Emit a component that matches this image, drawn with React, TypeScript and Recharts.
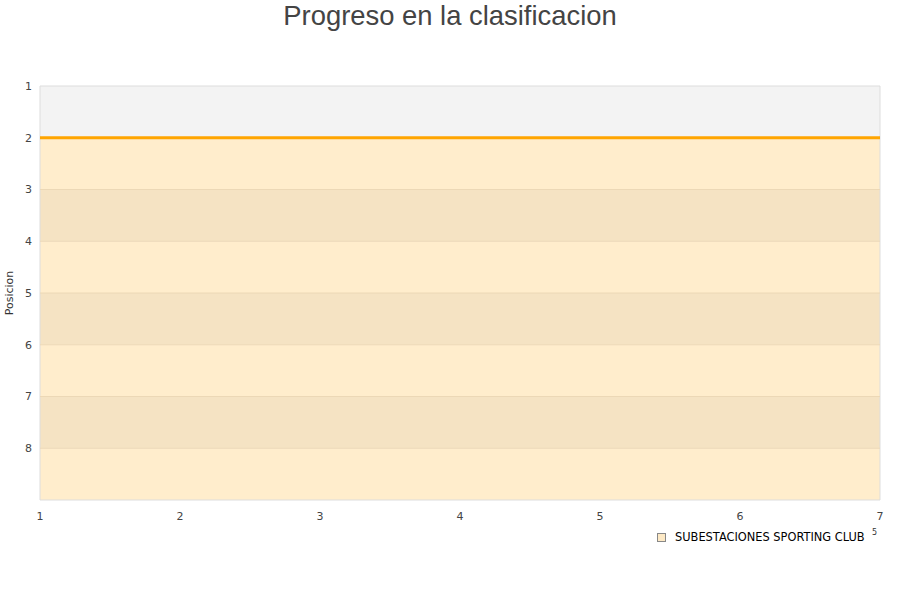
import { ComposedChart, Line, XAxis, YAxis, ReferenceArea, ReferenceLine } from 'recharts';

const ROUNDS = [1, 2, 3, 4, 5, 6, 7];
const POSITIONS = [2, 2, 2, 2, 2, 2, 2];
const X_TICKS = [1, 2, 3, 4, 5, 6, 7];
const Y_TICKS = [1, 2, 3, 4, 5, 6, 7, 8];
const TEAM = 'SUBESTACIONES SPORTING CLUB';

const data = ROUNDS.map((r, i) => ({ round: r, pos: POSITIONS[i] }));

const LIGHT = '#ffedcc';
const DARK = '#f5e3c3';

export default function App() {
  return (
    <div style={{ position: 'absolute', left: 0, top: 0, width: 900, height: 600, background: '#fff', fontFamily: '"DejaVu Sans", sans-serif' }}>
      <div
        style={{
          position: 'absolute',
          top: 0,
          width: 900,
          textAlign: 'center',
          fontFamily: '"Liberation Sans", Arial, sans-serif',
          fontSize: 27.4,
          color: '#444',
          lineHeight: '32px',
        }}
      >
        Progreso en la clasificacion
      </div>
      <ComposedChart width={900} height={600} data={data} margin={{ top: 86, right: 20, bottom: 70, left: 10 }}>
        {/* fondo del area de trazado */}
        <ReferenceArea x1={1} x2={7} y1={1} y2={2} fill="#f3f3f3" fillOpacity={1} stroke="none" />
        {[2, 3, 4, 5, 6, 7, 8].map((p) => (
          <ReferenceArea
            key={p}
            x1={1}
            x2={7}
            y1={p}
            y2={p + 1}
            fill={p % 2 === 0 ? LIGHT : DARK}
            fillOpacity={1}
            stroke="none"
          />
        ))}
        {[3, 4, 5, 6, 7, 8].map((p) => (
          <ReferenceLine key={p} y={p} stroke="#ecd8b6" strokeWidth={1} />
        ))}
        <XAxis
          dataKey="round"
          type="number"
          domain={[1, 7]}
          ticks={X_TICKS}
          axisLine={false}
          tickLine={false}
          tickMargin={6}
          tick={{ fontSize: 11, fill: '#444' }}
          height={30}
        />
        <YAxis
          type="number"
          reversed
          domain={[1, 9]}
          ticks={Y_TICKS}
          interval={0}
          axisLine={false}
          tickLine={false}
          tick={{ fontSize: 11, fill: '#444' }}
          width={30}
          label={{ value: 'Posicion', angle: -90, position: 'insideLeft', offset: -1, style: { fontSize: 11, fill: '#333', textAnchor: 'middle' } }}
        />
        <ReferenceArea x1={1} x2={7} y1={1} y2={9} fill="none" stroke="#dddddd" strokeWidth={1} />
        <Line
          type="linear"
          dataKey="pos"
          stroke="#ffa500"
          strokeWidth={3}
          dot={false}
          isAnimationActive={false}
        />
      </ComposedChart>
      <div style={{ position: 'absolute', left: 657, top: 530, display: 'flex', alignItems: 'center', fontSize: 11.4, color: '#000' }}>
        <span style={{ display: 'inline-block', width: 7, height: 7, background: '#fde9c5', border: '1px solid #888', marginRight: 9 }} />
        <span>{TEAM}</span>
      </div>
      <div style={{ position: 'absolute', left: 872, top: 528, fontSize: 8, color: '#333' }}>5</div>
    </div>
  );
}
